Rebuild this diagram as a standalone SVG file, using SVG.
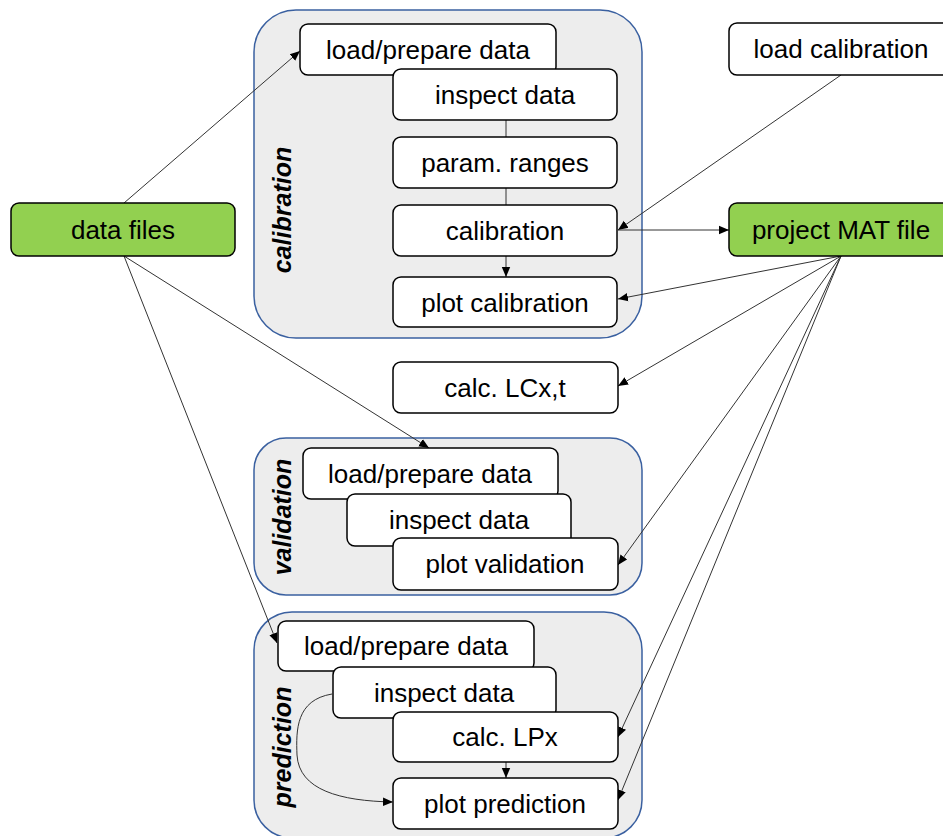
<svg xmlns="http://www.w3.org/2000/svg" width="943" height="836" viewBox="0 0 943 836">
<defs>
<marker id="arr" markerUnits="userSpaceOnUse" markerWidth="10" markerHeight="10" refX="10" refY="5" orient="auto" viewBox="0 0 10 10">
<path d="M0,0.8 L10,5 L0,9.2 z" fill="#000"/>
</marker>
<style>
.grp{fill:#EDEDED;stroke:#3A60A0;stroke-width:1.5}
.box{fill:#fff;stroke:#000;stroke-width:1.5}
.green{fill:#92D050;stroke:#000;stroke-width:1.5}
.t{font-family:"Liberation Sans",Arial,sans-serif;font-size:26px;fill:#000;text-anchor:middle}
.lbl{font-family:"Liberation Sans",Arial,sans-serif;font-size:25px;font-weight:bold;font-style:italic;fill:#000;text-anchor:middle}
.c{fill:none;stroke:#333;stroke-width:1}
.ca{fill:none;stroke:#333;stroke-width:1;marker-end:url(#arr)}
</style>
</defs>
<rect width="943" height="836" fill="#fff"/>

<g id="calibration-group">
<rect class="grp" x="254" y="10" width="388" height="328" rx="42"/>
<text class="lbl" transform="translate(291,210) rotate(-90)">calibration</text>
</g>
<g id="validation-group">
<rect class="grp" x="254" y="438" width="388" height="157" rx="32"/>
<text class="lbl" transform="translate(291,517) rotate(-90)">validation</text>
</g>
<g id="prediction-group">
<rect class="grp" x="254" y="612" width="388" height="226" rx="38"/>
<text class="lbl" transform="translate(291,747) rotate(-90)">prediction</text>
</g>

<g id="connectors">
<line class="c" x1="506" y1="120" x2="506" y2="137"/>
<line class="c" x1="506" y1="188" x2="506" y2="205"/>
<line class="ca" x1="506" y1="256" x2="506" y2="277"/>
<line class="ca" x1="506" y1="762" x2="506" y2="778"/>
<line class="ca" x1="124" y1="203" x2="300" y2="51"/>
<line class="ca" x1="124" y1="256" x2="429" y2="448"/>
<line class="ca" x1="124" y1="256" x2="277" y2="643"/>
<line class="ca" x1="841" y1="75" x2="618" y2="230"/>
<line class="ca" x1="618" y1="230" x2="729" y2="230"/>
<line class="ca" x1="841" y1="256" x2="618" y2="299"/>
<line class="ca" x1="841" y1="256" x2="618" y2="386"/>
<line class="ca" x1="841" y1="256" x2="618" y2="565"/>
<line class="ca" x1="841" y1="256" x2="618" y2="737"/>
<line class="ca" x1="841" y1="256" x2="618" y2="800"/>
</g>

<g id="data-files">
<rect class="green" x="11" y="203" width="224" height="53" rx="8"/>
<text class="t" x="123" y="239">data files</text>
</g>
<g id="load-calibration">
<rect class="box" x="729" y="23" width="224" height="52" rx="8"/>
<text class="t" x="841" y="58">load calibration</text>
</g>
<g id="project-mat-file">
<rect class="green" x="729" y="203" width="224" height="53" rx="8"/>
<text class="t" x="841" y="239">project MAT file</text>
</g>

<g id="cal-load">
<rect class="box" x="300" y="24" width="256" height="51" rx="8"/>
<text class="t" x="428" y="59">load/prepare data</text>
</g>
<g id="cal-inspect">
<rect class="box" x="393" y="69" width="224" height="51" rx="8"/>
<text class="t" x="505" y="104">inspect data</text>
</g>
<g id="cal-param">
<rect class="box" x="393" y="137" width="224" height="51" rx="8"/>
<text class="t" x="505" y="172">param. ranges</text>
</g>
<g id="cal-calibration">
<rect class="box" x="393" y="205" width="224" height="51" rx="8"/>
<text class="t" x="505" y="240">calibration</text>
</g>
<g id="cal-plot">
<rect class="box" x="393" y="277" width="224" height="50" rx="8"/>
<text class="t" x="505" y="312">plot calibration</text>
</g>

<g id="calc-lcxt">
<rect class="box" x="393" y="362" width="225" height="51" rx="8"/>
<text class="t" x="505" y="397">calc. LCx,t</text>
</g>

<g id="val-load">
<rect class="box" x="303" y="448" width="255" height="51" rx="8"/>
<text class="t" x="430" y="483">load/prepare data</text>
</g>
<g id="val-inspect">
<rect class="box" x="347" y="494" width="224" height="52" rx="8"/>
<text class="t" x="459" y="529">inspect data</text>
</g>
<g id="val-plot">
<rect class="box" x="393" y="538" width="225" height="52" rx="8"/>
<text class="t" x="505" y="573">plot validation</text>
</g>

<g id="pred-load">
<rect class="box" x="278" y="621" width="256" height="50" rx="8"/>
<text class="t" x="406" y="655">load/prepare data</text>
</g>
<g id="pred-inspect">
<rect class="box" x="333" y="667" width="223" height="51" rx="8"/>
<text class="t" x="444" y="702">inspect data</text>
</g>
<g id="pred-calc-lpx">
<rect class="box" x="393" y="712" width="225" height="50" rx="8"/>
<text class="t" x="505" y="746">calc. LPx</text>
</g>
<g id="pred-plot">
<rect class="box" x="393" y="778" width="225" height="51" rx="8"/>
<text class="t" x="505" y="813">plot prediction</text>
</g>
<g id="curve-connector">
<path class="ca" d="M332,694 C296,700 296,730 297,755 C299,790 340,801 393,802"/>
</g>
</svg>
